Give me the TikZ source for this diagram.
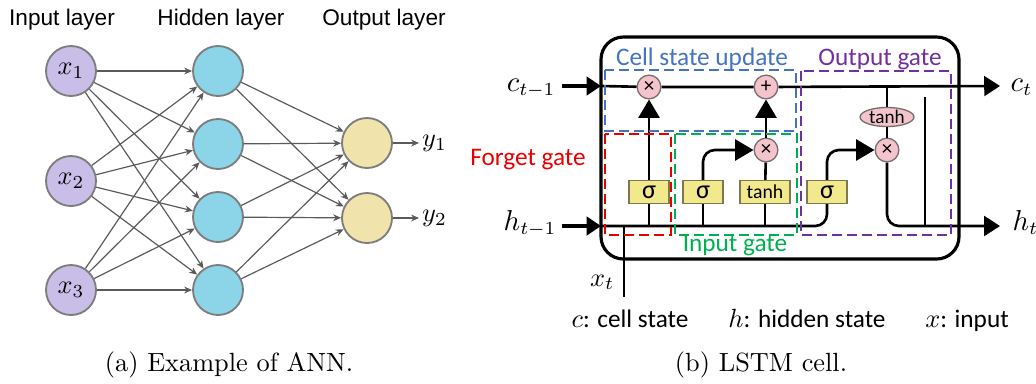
\documentclass[tikz,border=0pt]{standalone}
\usepackage{amsmath}
\usepackage{fontspec}
\newfontfamily\calfont{Carlito}
\newfontfamily\arialfont{Liberation Sans}
\usepackage{tikz}
\usetikzlibrary{arrows.meta}
\usetikzlibrary{shapes.geometric}

\definecolor{inputfill}{RGB}{200,190,232}
\definecolor{hiddenfill}{RGB}{140,212,232}
\definecolor{outputfill}{RGB}{240,228,172}
\definecolor{nodeedge}{RGB}{125,125,125}
\definecolor{edgegray}{RGB}{90,90,90}
\definecolor{opfill}{RGB}{244,196,204}
\definecolor{opedge}{RGB}{120,110,110}
\definecolor{layerfill}{RGB}{242,232,140}
\definecolor{layeredge}{RGB}{125,120,80}
\definecolor{updblue}{RGB}{68,114,196}
\definecolor{forgetred}{RGB}{232,0,0}
\definecolor{inpgreen}{RGB}{0,176,80}
\definecolor{outpurple}{RGB}{112,48,160}

\begin{document}
\begin{tikzpicture}[x=0.38pt, y=-0.38pt,
  neuron/.style={circle, draw=nodeedge, line width=0.7pt, minimum size=19pt, inner sep=0pt,
    font=\fontsize{10}{12}\selectfont},
  annedge/.style={draw=edgegray, line width=0.45pt, -{Stealth[length=3pt,width=2.6pt]}},
  layertitle/.style={anchor=base, font=\arialfont\fontsize{8.6}{10}\selectfont},
  op/.style={circle, draw=opedge, fill=opfill, line width=0.5pt, minimum size=9pt, inner sep=0pt,
    font=\calfont\fontsize{8}{9}\selectfont},
  gatebox/.style={rectangle, draw=layeredge, fill=layerfill, line width=0.6pt, minimum height=8.7pt,
    minimum width=15.2pt, inner sep=0pt, font=\calfont\fontsize{10}{11}\selectfont},
  flow/.style={line width=1pt},
  bigarrow/.style={line width=1pt, -{Triangle[length=7pt,width=8pt]}},
  inarrow/.style={line width=1.8pt, -{Triangle[length=5.5pt,width=7pt]}},
  gatelabel/.style={anchor=base, font=\calfont\fontsize{9.6}{11}\selectfont},
  dashbox/.style={line width=1.1pt, dash pattern=on 3.8pt off 1.9pt},
  mathlabel/.style={font=\fontsize{10.5}{12}\selectfont, inner sep=0pt},
  legend/.style={anchor=base, font=\calfont\fontsize{9.6}{11}\selectfont}]
  \useasboundingbox (0,0) rectangle (1036,383);
  % ---------------------------------------------------------------- (a) example of ANN
  \node[layertitle] (titlein)  at (62,25)  {Input layer};
  \node[layertitle] (titlehid) at (221,25) {Hidden layer};
  \node[layertitle] (titleout) at (384,25) {Output layer};
  % input layer
  \node[neuron, fill=inputfill] (in1) at (71,71)  {$x_1$};
  \node[neuron, fill=inputfill] (in2) at (71,181) {$x_2$};
  \node[neuron, fill=inputfill] (in3) at (71,290) {$x_3$};
  % hidden layer
  \node[neuron, fill=hiddenfill] (hid1) at (218,71)  {};
  \node[neuron, fill=hiddenfill] (hid2) at (218,144) {};
  \node[neuron, fill=hiddenfill] (hid3) at (218,217) {};
  \node[neuron, fill=hiddenfill] (hid4) at (218,290) {};
  % output layer
  \node[neuron, fill=outputfill] (out1) at (367,143) {};
  \node[neuron, fill=outputfill] (out2) at (367,218) {};
  \node[anchor=west, inner sep=1pt, font=\fontsize{10}{12}\selectfont] (ylab1) at (419,143) {$y_1$};
  \node[anchor=west, inner sep=1pt, font=\fontsize{10}{12}\selectfont] (ylab2) at (419,218) {$y_2$};
  % weights
  \foreach \i in {1,2,3}
    \foreach \j in {1,...,4}
      \draw[annedge] (in\i) -- (hid\j);
  \foreach \j in {1,...,4}
    \foreach \k in {1,2}
      \draw[annedge] (hid\j) -- (out\k);
  \draw[annedge] (out1) -- (ylab1);
  \draw[annedge] (out2) -- (ylab2);
  \node[anchor=base, font=\fontsize{10}{12}\selectfont] (capa) at (229,371) {(a) Example of ANN.};
  % ---------------------------------------------------------------- (b) LSTM cell
  \draw[line width=1.2pt, rounded corners=8.5pt] (601,37) rectangle (959,259);
  % pointwise operations
  \node[op] (fmul) at (649,87) {×};
  \node[op] (plus) at (766,87) {+};
  \node[op] (imul) at (766,150) {×};
  \node[op] (omul) at (887,150) {×};
  \node[ellipse, draw=opedge, fill=opfill, line width=0.5pt, minimum width=20.5pt, minimum height=7pt,
    inner sep=0pt, font=\calfont\fontsize{7.3}{8}\selectfont] (otanh) at (887,117) {tanh};
  % network layers
  \node[gatebox] (fsig) at (649,192) {σ};
  \node[gatebox] (isig) at (703,192) {σ};
  \node[gatebox, minimum width=19pt, font=\calfont\fontsize{7.5}{8}\selectfont] (itanh) at (765,192) {tanh};
  \node[gatebox] (osig) at (827,192) {σ};
  % line ends
  \coordinate (cfrom) at (562,86);
  \coordinate (cin) at (601,86);
  \coordinate (cout) at (1000,86);
  \coordinate (hfrom) at (562,226);
  \coordinate (hin) at (601,226);
  \coordinate (hout) at (1000,226);
  \coordinate (otap) at (887,86);
  \coordinate (vtop) at (925,97);
  \coordinate (xfrom) at (624,297);
  % cell state and hidden state
  \draw[inarrow] (cfrom) -- (cin);
  \draw[inarrow] (hfrom) -- (hin);
  \draw[flow, -{Triangle[length=6pt,width=7.5pt]}] (cin) -- (fmul) -- (plus) -- (cout);
  \draw[flow, rounded corners=4.5pt] (hin) -| (osig);
  \draw[flow] (xfrom) -- (xfrom |- hin);
  \draw[flow] (fsig) -- (fsig |- hin);
  \draw[flow] (isig) -- (isig |- hin);
  \draw[flow] (itanh) -- (itanh |- hin);
  % gate signals
  \draw[bigarrow] (fsig) -- (fmul);
  \draw[bigarrow, rounded corners=4.5pt] (isig) |- (imul);
  \draw[flow] (itanh) -- (imul);
  \draw[bigarrow] (imul) -- (plus);
  \draw[bigarrow, rounded corners=4.5pt] (osig) |- (omul);
  \draw[flow] (otap) -- (otanh);
  \draw[flow] (otanh) -- (omul);
  \draw[flow, rounded corners=4.5pt, -{Triangle[length=6pt,width=7.5pt]}] (omul) |- (hout);
  \draw[flow] (vtop) -- (vtop |- hin);
  % gate regions
  \draw[dashbox, updblue] (605,70) rectangle (796,131);
  \draw[dashbox, forgetred] (605,134) rectangle (671,235);
  \draw[dashbox, inpgreen] (675,134) rectangle (797,235);
  \draw[dashbox, outpurple] (801,71) rectangle (951,235);
  \node[gatelabel, updblue] (lblupd) at (702,65) {Cell state update};
  \node[gatelabel, outpurple] (lblout) at (880,65) {Output gate};
  \node[gatelabel, forgetred, anchor=base east] (lblfor) at (595,165) {Forget gate};
  \node[gatelabel, inpgreen] (lblinp) at (735,251) {Input gate};
  % state labels
  \node[mathlabel, anchor=base east] (clab) at (556,91) {$c_{t-1}$};
  \node[mathlabel, anchor=base east] (hlab) at (557,230) {$h_{t-1}$};
  \node[mathlabel, anchor=base west] (ctlab) at (1010,91) {$c_t$};
  \node[mathlabel, anchor=base west] (htlab) at (1012,230) {$h_t$};
  \node[mathlabel, anchor=base east, font=\fontsize{10}{12}\selectfont] (xlab) at (615,286) {$x_t$};
  % legend
  \node[legend] (legc) at (630,327) {$c$: cell state};
  \node[legend] (legh) at (807,327) {$h$: hidden state};
  \node[legend] (legx) at (967,327) {$x$: input};
  \node[anchor=base, font=\fontsize{10}{12}\selectfont] (capb) at (761,371) {(b) LSTM cell.};
\end{tikzpicture}
\end{document}
